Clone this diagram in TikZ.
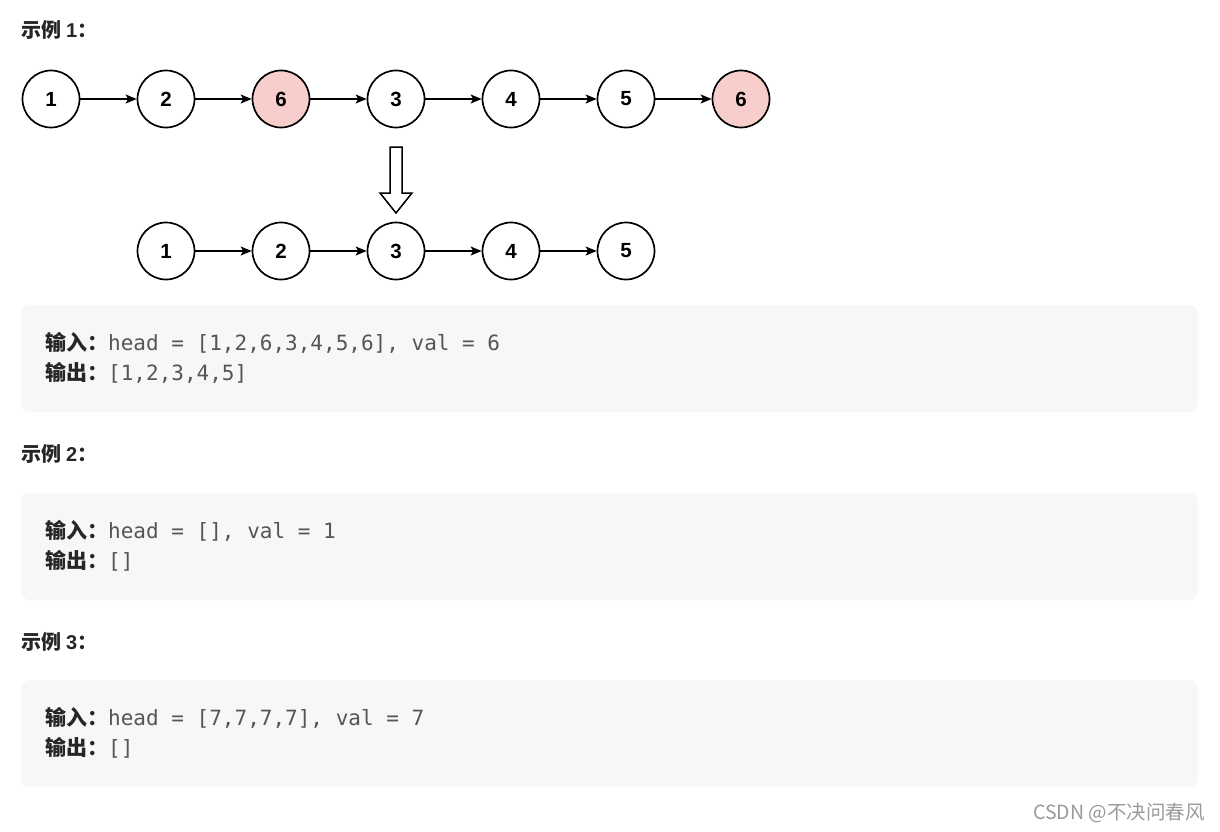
\documentclass[tikz,border=0pt]{standalone}
\usepackage{fontspec}
\setmainfont{Liberation Sans}
\newfontfamily\cjkfont{Noto Sans CJK SC}
\newfontfamily\monofont{DejaVu Sans Mono}
\usetikzlibrary{arrows.meta,calc}
\definecolor{pinkfill}{HTML}{F8CECC}
\definecolor{boxgray}{HTML}{F7F7F7}
\definecolor{headtext}{HTML}{262626}
\definecolor{codetext}{HTML}{555555}
\definecolor{wmgray}{HTML}{9A9A9A}
\tikzset{
  listnode/.style={circle, draw=black, line width=1.7pt, minimum size=57pt, inner sep=0pt, fill=white,
    font=\fontsize{20.5}{20.5}\selectfont\bfseries},
  rednode/.style={listnode, fill=pinkfill},
  link/.style={draw=black, line width=1.3pt, -{Stealth[length=11pt,width=9pt,inset=2.5pt]}},
  codebox/.style={fill=boxgray, rounded corners=9pt, draw=none},
  heading/.style={anchor=base west, inner sep=0pt, text=headtext, font=\cjkfont\bfseries\fontsize{20}{20}\selectfont},
  codeline/.style={anchor=base west, inner sep=0pt, text=headtext, font=\cjkfont\bfseries\fontsize{21}{21}\selectfont},
  hollow/.style={draw=black, line width=1.5pt, fill=white, line join=miter},
}
\newcommand{\cd}[1]{{\monofont\mdseries\fontsize{21}{21}\selectfont\color{codetext}#1}}
\newcommand{\hd}[1]{示例\hspace{5pt}{\rmfamily\bfseries #1}：}
\begin{document}
\begin{tikzpicture}[x=1pt,y=-1pt]
\useasboundingbox (0,0) rectangle (1220,832);
\fill[white] (0,0) rectangle (1220,832);

% heading 1
\node[heading] (h1) at (21,38) {\hd{1}};

% first list
\node[listnode] (a1) at (51,99) {1};
\node[listnode] (a2) at (166,99) {2};
\node[rednode]  (a3) at (281,99) {6};
\node[listnode] (a4) at (396,99) {3};
\node[listnode] (a5) at (511,99) {4};
\node[listnode] (a6) at (626,99) {5};
\node[rednode]  (a7) at (741,99) {6};
\foreach \i/\j in {a1/a2,a2/a3,a3/a4,a4/a5,a5/a6,a6/a7}
  \draw[link] (\i) -- (\j);

% hollow down arrow
\coordinate (arrtop) at (396,147);
\coordinate (arrtip) at (396,213);
\draw[hollow] ($(arrtop)+(-6,0)$) -- ($(arrtop)+(6,0)$) -- (402,193) -- (412,193) -- (arrtip) -- (380,193) -- (390,193) -- cycle;

% second list
\node[listnode] (b1) at (166,251) {1};
\node[listnode] (b2) at (281,251) {2};
\node[listnode] (b3) at (396,251) {3};
\node[listnode] (b4) at (511,251) {4};
\node[listnode] (b5) at (626,251) {5};
\foreach \i/\j in {b1/b2,b2/b3,b3/b4,b4/b5}
  \draw[link] (\i) -- (\j);

% box 1
\fill[codebox] (21,305) rectangle (1198,412);
\node[codeline] (in1) at (45,350) {输入：\cd{head = [1,2,6,3,4,5,6], val = 6}};
\node[codeline] (out1) at (45,380) {输出：\cd{[1,2,3,4,5]}};

% heading 2
\node[heading] (h2) at (21,461) {\hd{2}};
\fill[codebox] (21,493) rectangle (1198,600);
\node[codeline] (in2) at (45,538) {输入：\cd{head = [], val = 1}};
\node[codeline] (out2) at (45,568) {输出：\cd{[]}};

% heading 3
\node[heading] (h3) at (21,649) {\hd{3}};
\fill[codebox] (21,680) rectangle (1198,787);
\node[codeline] (in3) at (45,725) {输入：\cd{head = [7,7,7,7], val = 7}};
\node[codeline] (out3) at (45,755) {输出：\cd{[]}};

% watermark
\node[anchor=base east, inner sep=0pt, text=wmgray, font=\cjkfont\fontsize{19.5}{19.5}\selectfont] (wm) at (1205,819) {CSDN @不决问春风};
\end{tikzpicture}
\end{document}
